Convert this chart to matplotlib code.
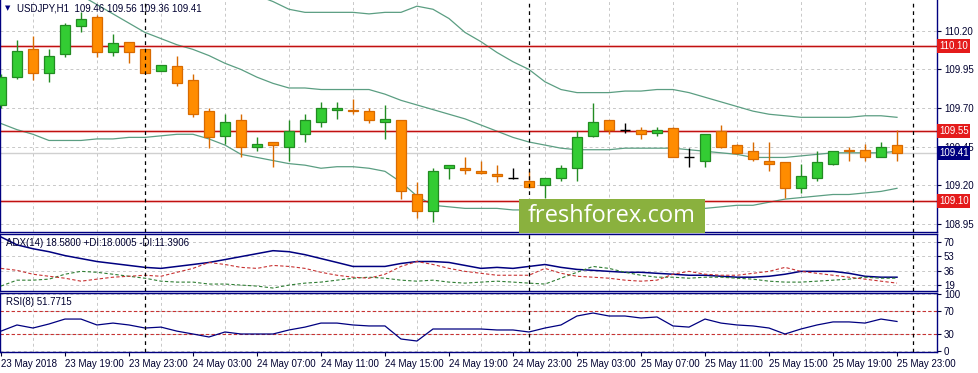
import matplotlib
matplotlib.use("Agg")
import matplotlib.pyplot as plt
from matplotlib.patches import Rectangle

# USDJPY H1, 23 May 15:00 .. 25 May 23:00
opens = [109.72, 109.90, 110.08, 109.93, 110.05, 110.23, 110.29, 110.06, 110.13, 110.08,
         109.94, 109.97, 109.88, 109.68, 109.52, 109.62, 109.45, 109.48, 109.45, 109.53,
         109.61, 109.69, 109.69, 109.68, 109.61, 109.62, 109.14, 109.03, 109.31, 109.31,
         109.29, 109.27, 109.25, 109.23, 109.20, 109.25, 109.31, 109.52, 109.62, 109.56,
         109.56, 109.54, 109.57, 109.38, 109.36, 109.55, 109.46, 109.42, 109.36, 109.35,
         109.18, 109.25, 109.34, 109.43, 109.43, 109.38, 109.46]
highs = [109.92, 110.14, 110.17, 110.08, 110.25, 110.32, 110.30, 110.18, 110.13, 110.08,
         109.98, 110.04, 109.92, 109.70, 109.66, 109.66, 109.51, 109.48, 109.62, 109.66,
         109.74, 109.74, 109.76, 109.70, 109.72, 109.62, 109.22, 109.31, 109.33, 109.38,
         109.36, 109.33, 109.31, 109.29, 109.25, 109.33, 109.55, 109.73, 109.62, 109.60,
         109.58, 109.58, 109.58, 109.44, 109.53, 109.59, 109.47, 109.48, 109.48, 109.35,
         109.34, 109.42, 109.42, 109.45, 109.47, 109.48, 109.56]
lows = [109.70, 109.89, 109.88, 109.87, 110.03, 110.19, 110.03, 110.04, 109.99, 109.93,
        109.94, 109.84, 109.64, 109.44, 109.47, 109.38, 109.42, 109.32, 109.36, 109.48,
        109.58, 109.63, 109.66, 109.60, 109.50, 109.11, 108.99, 108.96, 109.24, 109.27,
        109.27, 109.22, 109.24, 109.18, 109.12, 109.23, 109.23, 109.51, 109.53, 109.54,
        109.50, 109.52, 109.38, 109.32, 109.32, 109.44, 109.40, 109.36, 109.29, 109.12,
        109.15, 109.23, 109.33, 109.36, 109.36, 109.38, 109.36]
closes = [109.90, 110.07, 109.93, 110.04, 110.24, 110.28, 110.06, 110.12, 110.06, 109.93,
          109.98, 109.86, 109.66, 109.51, 109.61, 109.45, 109.47, 109.46, 109.55, 109.62,
          109.70, 109.70, 109.68, 109.62, 109.63, 109.16, 109.03, 109.29, 109.33, 109.30,
          109.28, 109.26, 109.25, 109.19, 109.25, 109.31, 109.51, 109.61, 109.56, 109.56,
          109.53, 109.56, 109.38, 109.38, 109.53, 109.45, 109.41, 109.37, 109.34, 109.18,
          109.26, 109.35, 109.42, 109.42, 109.38, 109.45, 109.41]

# Bollinger bands
bb_upper = [111.40, 111.35, 111.30, 111.24, 111.18, 111.12, 111.05, 110.98, 110.90, 110.84,
            110.78, 110.72, 110.66, 110.60, 110.54, 110.48, 110.43, 110.39, 110.34, 110.32,
            110.32, 110.32, 110.32, 110.31, 110.32, 110.32, 110.36, 110.34, 110.28, 110.19,
            110.13, 110.06, 110.00, 109.95, 109.87, 109.82, 109.80, 109.80, 109.80, 109.81,
            109.81, 109.82, 109.82, 109.80, 109.77, 109.74, 109.71, 109.68, 109.66, 109.65,
            109.64, 109.64, 109.64, 109.64, 109.65, 109.65, 109.64]
bb_middle = [110.62, 110.58, 110.54, 110.50, 110.46, 110.43, 110.37, 110.31, 110.25, 110.19,
             110.15, 110.11, 110.08, 110.04, 109.99, 109.95, 109.90, 109.86, 109.83, 109.83,
             109.82, 109.82, 109.82, 109.82, 109.79, 109.75, 109.72, 109.69, 109.66, 109.63,
             109.59, 109.55, 109.51, 109.48, 109.46, 109.44, 109.43, 109.43, 109.43, 109.44,
             109.44, 109.44, 109.44, 109.43, 109.42, 109.41, 109.40, 109.38, 109.38, 109.38,
             109.39, 109.40, 109.41, 109.41, 109.41, 109.41, 109.42]
bb_lower = [109.60, 109.56, 109.53, 109.49, 109.49, 109.49, 109.50, 109.50, 109.51, 109.51,
            109.52, 109.53, 109.53, 109.50, 109.46, 109.40, 109.38, 109.36, 109.34, 109.33,
            109.31, 109.32, 109.32, 109.31, 109.29, 109.22, 109.13, 109.07, 109.06, 109.05,
            109.05, 109.05, 109.04, 109.04, 109.03, 109.03, 109.03, 109.03, 109.03, 109.03,
            109.03, 109.03, 109.04, 109.05, 109.05, 109.06, 109.07, 109.07, 109.09, 109.11,
            109.12, 109.13, 109.14, 109.14, 109.15, 109.16, 109.18]

adx = [75.8, 66.5, 61.9, 58.4, 53.8, 50.3, 46.8, 44.5, 42.2, 39.9,
       38.7, 41.0, 43.3, 45.7, 49.1, 52.6, 56.1, 59.6, 58.4, 54.9,
       50.3, 45.7, 41.0, 41.0, 41.0, 44.5, 46.8, 46.8, 45.7, 42.2,
       38.7, 39.9, 38.7, 41.0, 43.3, 39.9, 37.5, 36.4, 35.2, 34.1,
       34.1, 32.9, 31.8, 30.6, 30.6, 29.4, 28.3, 28.3, 29.4, 31.8,
       35.2, 35.2, 35.2, 32.9, 29.4, 28.3, 28.3]
plus_di = [17.8, 24.8, 24.8, 26.0, 31.8, 35.2, 34.1, 31.8, 29.4, 27.1,
           23.6, 22.5, 22.5, 20.2, 20.2, 19.0, 17.8, 15.5, 19.0, 21.3,
           22.5, 24.8, 27.1, 28.3, 27.1, 24.8, 23.6, 24.8, 22.5, 21.3,
           22.5, 23.6, 22.5, 21.3, 20.2, 27.1, 34.1, 41.0, 38.7, 34.1,
           30.6, 28.3, 28.3, 27.1, 28.3, 28.3, 27.1, 26.0, 23.6, 22.5,
           22.5, 23.6, 24.8, 26.0, 28.3, 27.1, 27.1]
minus_di = [38.7, 36.4, 31.8, 29.4, 27.1, 23.6, 26.0, 28.3, 29.4, 30.6,
            29.4, 34.1, 38.7, 45.7, 43.3, 39.9, 38.7, 42.2, 41.0, 38.7,
            34.1, 30.6, 28.3, 27.1, 31.8, 41.0, 46.8, 43.3, 38.7, 35.2,
            32.9, 30.6, 30.6, 30.6, 38.7, 32.9, 29.4, 28.3, 27.1, 24.8,
            23.6, 24.8, 31.8, 35.2, 31.8, 30.6, 30.6, 32.9, 35.2, 39.9,
            35.2, 32.9, 30.6, 28.3, 26.0, 23.6, 21.3]
rsi = [35.0, 45.7, 40.4, 47.4, 56.0, 56.0, 45.7, 49.0, 45.7, 40.4,
       42.0, 35.0, 30.0, 24.8, 33.5, 30.0, 30.0, 30.0, 37.0, 42.0,
       49.0, 49.0, 45.7, 44.0, 44.0, 21.3, 17.8, 38.7, 38.7, 38.7,
       38.7, 37.0, 37.0, 33.5, 40.4, 45.7, 61.3, 66.5, 61.3, 61.3,
       57.8, 59.6, 44.0, 42.0, 56.0, 49.0, 45.7, 44.0, 40.4, 30.0,
       38.7, 45.7, 51.0, 51.0, 49.0, 56.0, 51.8]

time_labels = ['23 May 2018', '23 May 19:00', '23 May 23:00', '24 May 03:00', '24 May 07:00',
               '24 May 11:00', '24 May 15:00', '24 May 19:00', '24 May 23:00', '25 May 03:00',
               '25 May 07:00', '25 May 11:00', '25 May 15:00', '25 May 19:00', '25 May 23:00']
day_breaks = [9, 33, 57]          # bar index of 24 May 00:00, 25 May 00:00, 26 May 00:00
level_lines = [110.10, 109.55, 109.10]
last_price = 109.41
price_ticks = [110.20, 109.95, 109.70, 109.45, 109.20, 108.95]

plt.rcParams['font.family'] = ['Liberation Sans', 'DejaVu Sans']

W, H = 979, 373
NAVY = '#000080'
GRID = '#c8c8c8'
BB = '#5b9e82'
UP_FILL, UP_EDGE = '#33cc33', '#228b22'
DN_FILL, DN_EDGE = '#ff8c00', '#d86a00'


def px_rect(x, y, w, h):
    return [x / W, 1 - (y + h) / H, w / W, h / H]


fig = plt.figure(figsize=(W / 100, H / 100), dpi=100)
ax = fig.add_axes(px_rect(0, 0, 937, 232))
ax_adx = fig.add_axes(px_rect(0, 234, 937, 57), sharex=ax)
ax_rsi = fig.add_axes(px_rect(0, 293, 937, 59), sharex=ax)

n = len(opens)
xs = list(range(n))

# candles
for i in xs:
    o, h, l, c = opens[i], highs[i], lows[i], closes[i]
    if c > o:
        fill, edge = UP_FILL, UP_EDGE
    elif c < o:
        fill, edge = DN_FILL, DN_EDGE
    else:
        fill, edge = 'black', 'black'
    ax.vlines(i, l, h, color=edge, lw=1, zorder=3)
    if c == o:
        ax.hlines(o, i - 0.32, i + 0.32, color=edge, lw=1, zorder=4)
    else:
        ax.bar(i, c - o, bottom=o, width=0.62, color=fill, edgecolor=edge, lw=0.9, zorder=4)

ax.plot(xs, bb_upper, color=BB, lw=0.9, zorder=2)
ax.plot(xs, bb_middle, color=BB, lw=0.9, zorder=2)
ax.plot(xs, bb_lower, color=BB, lw=0.9, zorder=2)

for lv in level_lines:
    ax.axhline(lv, color='#f8d0d0', lw=2.2, zorder=1)
    ax.axhline(lv, color='#c01010', lw=0.9, zorder=2)
ax.axhline(last_price, color='#d0d0d0', lw=1, zorder=1)

ax.set_ylim(108.897, 110.40)
ax.set_yticks(price_ticks)
ax.set_yticklabels([f'{p:.2f}' for p in price_ticks])

for lv in level_lines:
    ax.text(1.002, lv, f'{lv:.2f}', transform=ax.get_yaxis_transform(), color='white',
            fontsize=7, va='center', ha='left', clip_on=False, zorder=20,
            bbox=dict(boxstyle='square,pad=0.2', fc='#e41b1b', ec='none'))
ax.text(1.002, last_price, f'{last_price:.2f}', transform=ax.get_yaxis_transform(), color='white',
        fontsize=7, va='center', ha='left', clip_on=False, zorder=20,
        bbox=dict(boxstyle='square,pad=0.2', fc=NAVY, ec='none'))

ax.text(0.005, 0.965, '\u25BC', transform=ax.transAxes, fontsize=5, color=NAVY,
        va='center', family='DejaVu Sans')
ax.text(0.018, 0.965, 'USDJPY,H1  109.46 109.56 109.36 109.41', transform=ax.transAxes,
        fontsize=7, color='#000030', va='center')

# ADX
ax_adx.plot(xs, adx, color=NAVY, lw=1.1, zorder=3)
ax_adx.plot(xs, plus_di, color='#2e7d32', lw=0.8, ls=(0, (3, 2)), zorder=3)
ax_adx.plot(xs, minus_di, color='#c83232', lw=0.8, ls=(0, (3, 2)), zorder=3)
ax_adx.set_ylim(12.0, 79.3)
ax_adx.set_yticks([70, 53, 36, 19])
ax_adx.text(0.006, 0.84, 'ADX(14) 18.5800 +DI:18.0005 -DI:11.3906', transform=ax_adx.transAxes,
            fontsize=7, color='#000030', va='center')

# RSI
ax_rsi.plot(xs, rsi, color=NAVY, lw=0.9, zorder=3)
ax_rsi.axhline(70, color='#c83232', lw=0.8, ls=(0, (3, 2)), zorder=2)
ax_rsi.axhline(30, color='#c83232', lw=0.8, ls=(0, (3, 2)), zorder=2)
ax_rsi.set_ylim(-1.3, 101.3)
ax_rsi.set_yticks([100, 70, 30, 0])
for lbl in ax_rsi.get_yticklabels():
    if lbl.get_text() == '100':
        lbl.set_va('top')
    elif lbl.get_text() == '0':
        lbl.set_va('bottom')
ax_rsi.text(0.006, 0.84, 'RSI(8) 51.7715', transform=ax_rsi.transAxes,
            fontsize=7, color='#000030', va='center')

# common styling
for a in (ax, ax_adx, ax_rsi):
    a.set_xlim(-0.06, 58.5)
    a.yaxis.tick_right()
    a.tick_params(axis='y', labelsize=7, length=3, pad=2, colors='#000030', width=0.8)
    a.set_xticks(range(0, n, 2), minor=True)
    a.grid(True, which='minor', axis='x', color=GRID, lw=0.7, ls=(0, (3, 3)))
    a.grid(True, which='major', axis='y', color=GRID, lw=0.7, ls=(0, (3, 3)))
    a.set_axisbelow(True)
    for s in a.spines.values():
        s.set_color(NAVY)
        s.set_linewidth(1)
    for d in day_breaks:
        a.axvline(d, color='black', lw=0.9, ls=(0, (3, 3)), zorder=5)

ax.spines['top'].set_visible(False)

for a in (ax, ax_adx):
    a.tick_params(axis='x', which='both', length=0, labelbottom=False)

ax_rsi.set_xticks(range(0, n, 4))
ax_rsi.set_xticklabels(time_labels)
ax_rsi.tick_params(axis='x', which='major', labelsize=7, length=3, pad=2, colors='#000030')
ax_rsi.tick_params(axis='x', which='minor', length=0)
for lbl in ax_rsi.get_xticklabels():
    lbl.set_ha('left')

# watermark
fig.add_artist(Rectangle((519 / W, 1 - 233 / H), 186 / W, 34 / H, transform=fig.transFigure,
                         fc='#8ab13e', ec='none', zorder=30))
fig.text(612 / W, 1 - 216 / H, 'freshforex.com', ha='center', va='center', color='white',
         fontsize=17, family='Open Sans', zorder=31)

fig.savefig('out.png', dpi=100)
